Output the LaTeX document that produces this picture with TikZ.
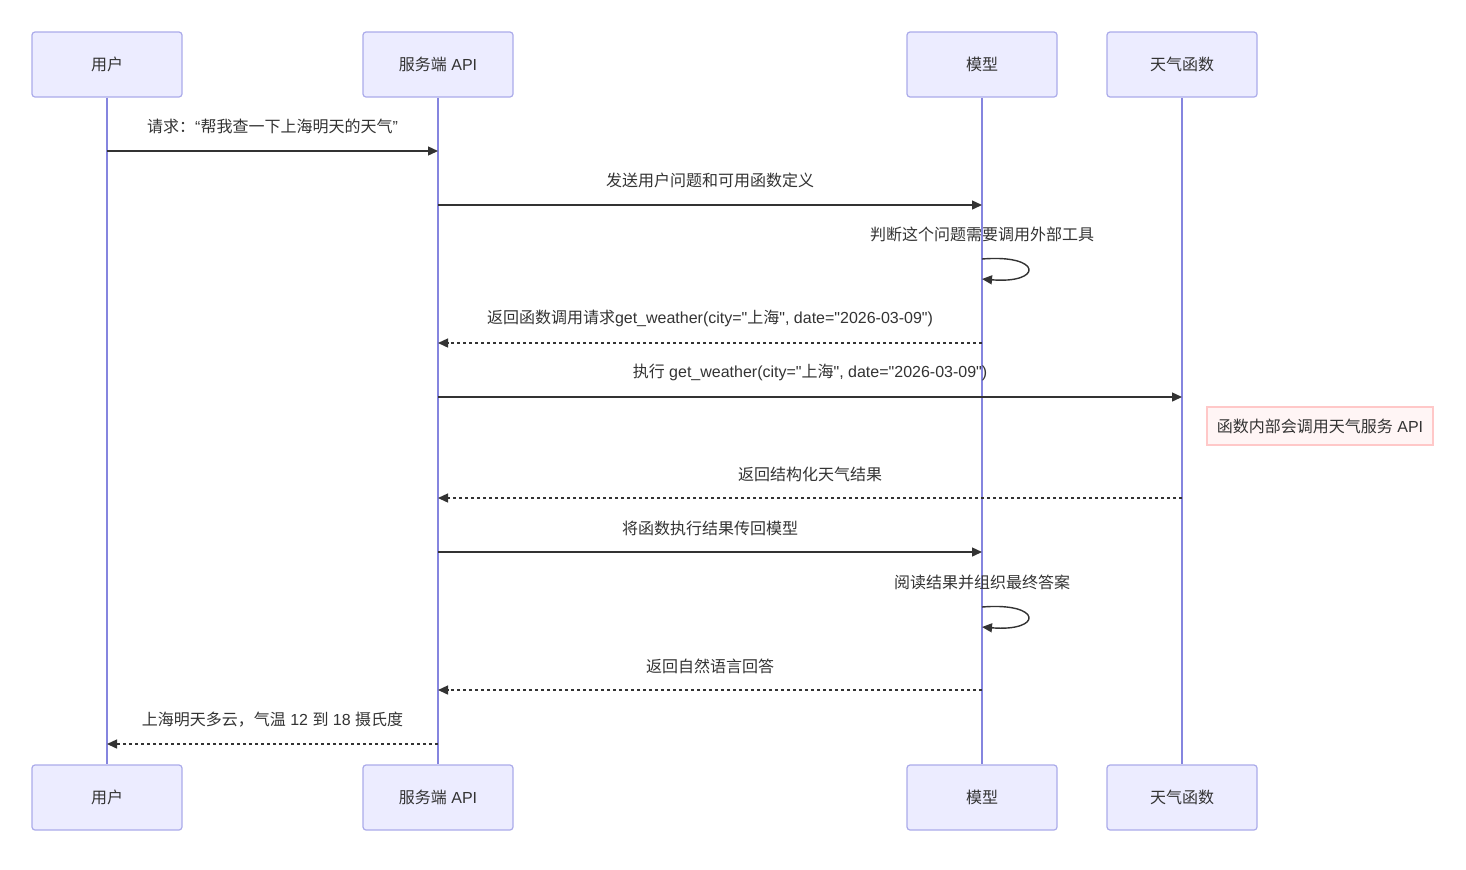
\documentclass[tikz,border=0pt]{standalone}
\usepackage{fontspec}
\setmainfont{Liberation Sans}[Ligatures=TeXOff]
\newfontfamily\cjk{Noto Sans CJK SC}
\newcommand\zh[1]{{\cjk #1}}
\usetikzlibrary{arrows.meta}
\definecolor{actfill}{HTML}{ECECFF}
\definecolor{actdraw}{HTML}{ABABEA}
\definecolor{lifec}{HTML}{8585DF}
\definecolor{txt}{HTML}{333333}
\definecolor{notefill}{HTML}{FFF5F5}
\definecolor{notedraw}{HTML}{FFC8C8}
\tikzset{
  actor/.style={draw=actdraw, fill=actfill, line width=0.6pt, rounded corners=1.5pt,
    minimum width=75pt, minimum height=32.5pt, inner sep=0pt, font=\fontsize{8}{10}\selectfont, text=txt},
  life/.style={draw=lifec, line width=0.8pt},
  msg/.style={draw=txt, line width=0.7pt, -{Triangle[length=5pt,width=4.5pt]}},
  dmsg/.style={msg, dash pattern=on 1.5pt off 1.5pt},
  lbl/.style={font=\fontsize{8}{10}\selectfont, text=txt, inner sep=0pt},
  notebox/.style={draw=notedraw, fill=notefill, line width=0.6pt, minimum width=113pt,
    minimum height=19pt, inner sep=0pt, font=\fontsize{8}{10}\selectfont, text=txt}
}
\begin{document}
\begin{tikzpicture}[x=0.5pt,y=-0.5pt]
\useasboundingbox (0,0) rectangle (1466,869);
% actors top
\node[actor] (uT) at (107,64.5) {\zh{用户}};
\node[actor] (sT) at (438,64.5) {\zh{服务端} API};
\node[actor] (mT) at (982,64.5) {\zh{模型}};
\node[actor] (wT) at (1182,64.5) {\zh{天气函数}};
% actors bottom
\node[actor] (uB) at (107,797.5) {\zh{用户}};
\node[actor] (sB) at (438,797.5) {\zh{服务端} API};
\node[actor] (mB) at (982,797.5) {\zh{模型}};
\node[actor] (wB) at (1182,797.5) {\zh{天气函数}};
% lifelines
\draw[life] (uT.south) -- (uB.north);
\draw[life] (sT.south) -- (sB.north);
\draw[life] (mT.south) -- (mB.north);
\draw[life] (wT.south) -- (wB.north);
% message anchor points
\coordinate (u1) at (107,151); \coordinate (s1) at (438,151);
\coordinate (s2) at (438,205); \coordinate (m2) at (982,205);
\coordinate (m3a) at (982,259); \coordinate (m3b) at (982,279);
\coordinate (m4) at (982,343); \coordinate (s4) at (438,343);
\coordinate (s5) at (438,397); \coordinate (w5) at (1182,397);
\coordinate (w6) at (1182,498); \coordinate (s6) at (438,498);
\coordinate (s7) at (438,552); \coordinate (m7) at (982,552);
\coordinate (m8a) at (982,607); \coordinate (m8b) at (982,627);
\coordinate (m9) at (982,690); \coordinate (s9) at (438,690);
\coordinate (s10) at (438,744); \coordinate (u10) at (107,744);
% messages
\draw[msg] (u1) -- node[lbl, midway, yshift=12.5pt] {\zh{请求：}“\zh{帮我查一下上海明天的天气}”} (s1);
\draw[msg] (s2) -- node[lbl, midway, yshift=12.5pt] {\zh{发送用户问题和可用函数定义}} (m2);
\node[lbl] (l3) at (982,234) {\zh{判断这个问题需要调用外部工具}};
\draw[msg] (m3a) .. controls (1043,254) and (1043,284) .. (m3b);
\draw[dmsg] (m4) -- node[lbl, midway, yshift=12.5pt] {\zh{返回函数调用请求}get\_weather(city="\zh{上海}", date="2026-03-09")} (s4);
\draw[msg] (s5) -- node[lbl, midway, yshift=12.5pt] {\zh{执行} get\_weather(city="\zh{上海}", date="2026-03-09")} (w5);
\node[notebox] (note) at (1320,426) {\zh{函数内部会调用天气服务} API};
\draw[dmsg] (w6) -- node[lbl, midway, yshift=12pt] {\zh{返回结构化天气结果}} (s6);
\draw[msg] (s7) -- node[lbl, midway, yshift=12pt] {\zh{将函数执行结果传回模型}} (m7);
\node[lbl] (l8) at (982,582) {\zh{阅读结果并组织最终答案}};
\draw[msg] (m8a) .. controls (1043,602) and (1043,632) .. (m8b);
\draw[dmsg] (m9) -- node[lbl, midway, yshift=12pt] {\zh{返回自然语言回答}} (s9);
\draw[dmsg] (s10) -- node[lbl, midway, yshift=12pt] {\zh{上海明天多云，气温} 12 \zh{到} 18 \zh{摄氏度}} (u10);
\end{tikzpicture}
\end{document}
